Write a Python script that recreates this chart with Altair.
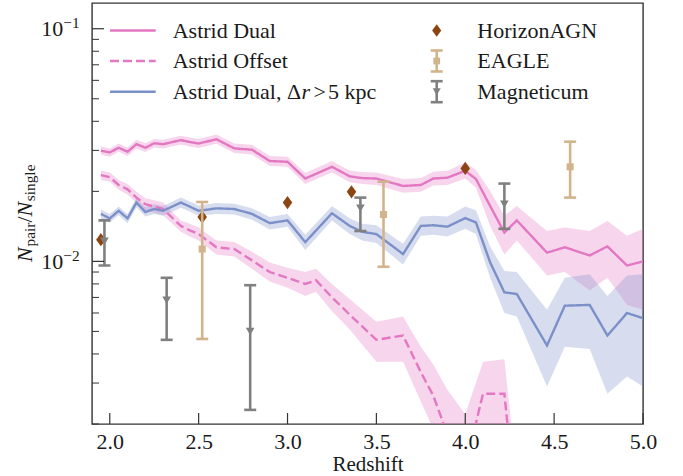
import altair as alt
import pandas as pd

# ---------------- Astrid: pair fractions on the snapshot grid ----------------
z_grid = [1.95, 2.0, 2.05, 2.1, 2.15, 2.2, 2.25, 2.3,
          2.4, 2.45, 2.5, 2.6, 2.7, 2.8, 2.9, 3.0,
          3.1, 3.25, 3.35, 3.42, 3.5,
          3.65, 3.75, 3.82, 3.9, 4.0,
          4.06, 4.14, 4.22, 4.29,
          4.46, 4.56, 4.7, 4.8, 4.91, 5.0]

dual = [0.0299, 0.0294, 0.0308, 0.0296, 0.0319, 0.0308, 0.0322, 0.0319,
        0.0332, 0.0326, 0.0321, 0.0335, 0.0306, 0.0302, 0.0270, 0.0268,
        0.0227, 0.0255, 0.0232, 0.0228, 0.0227,
        0.0211, 0.0213, 0.0227, 0.0229, 0.0245,
        0.0226, 0.0173, 0.0133, 0.0150,
        0.0109, 0.0115, 0.0106, 0.0116, 0.0096, 0.0100]
dual_lo = [0.0287, 0.0282, 0.0296, 0.0284, 0.0306, 0.0295, 0.0309, 0.0306,
           0.0318, 0.0312, 0.0307, 0.0320, 0.0292, 0.0288, 0.0257, 0.0255,
           0.0215, 0.0241, 0.0219, 0.0215, 0.0213,
           0.0197, 0.0199, 0.0212, 0.0213, 0.0227,
           0.0207, 0.0142, 0.0107, 0.0123,
           0.0087, 0.0090, 0.0075, 0.0085, 0.0065, 0.0062]
dual_hi = [0.0312, 0.0306, 0.0321, 0.0309, 0.0333, 0.0322, 0.0336, 0.0333,
           0.0347, 0.0341, 0.0336, 0.0351, 0.0321, 0.0317, 0.0284, 0.0282,
           0.0240, 0.0270, 0.0246, 0.0242, 0.0241,
           0.0226, 0.0228, 0.0243, 0.0245, 0.0266,
           0.0247, 0.0201, 0.0157, 0.0173,
           0.0135, 0.0140, 0.0135, 0.0149, 0.0129, 0.0138]

far = [0.0160, 0.0153, 0.0165, 0.0153, 0.0179, 0.0163, 0.0168, 0.0165,
       0.0179, 0.0172, 0.0165, 0.0169, 0.0168, 0.0160, 0.0146, 0.0150,
       0.0121, 0.0161, 0.0142, 0.0134, 0.0131,
       0.01075, 0.0142, 0.0143, 0.0141, 0.01535,
       0.0147, 0.0099, 0.00736, 0.00724,
       0.00435, 0.00645, 0.0065, 0.0048, 0.0060, 0.0057]
far_lo = [0.0153, 0.0147, 0.0158, 0.0146, 0.0171, 0.0156, 0.0160, 0.0157,
          0.0170, 0.0164, 0.0157, 0.0160, 0.0159, 0.0151, 0.0137, 0.0141,
          0.0112, 0.0150, 0.0131, 0.0123, 0.0120,
          0.0097, 0.0129, 0.0130, 0.0128, 0.0138,
          0.0131, 0.0085, 0.0060, 0.0058,
          0.0029, 0.0043, 0.0042, 0.0027, 0.0032, 0.0029]
far_hi = [0.0167, 0.0160, 0.0172, 0.0160, 0.0187, 0.0171, 0.0176, 0.0173,
          0.0188, 0.0181, 0.0174, 0.0178, 0.0177, 0.0169, 0.0155, 0.0160,
          0.0130, 0.0173, 0.0153, 0.0145, 0.0143,
          0.0119, 0.0156, 0.0157, 0.0156, 0.0172,
          0.0166, 0.0116, 0.0091, 0.0090,
          0.0062, 0.0085, 0.0088, 0.0071, 0.0087, 0.0088]

# ---------------- Astrid: offset AGN ----------------
z_off = [1.95, 2.0, 2.05, 2.1, 2.15, 2.2, 2.25, 2.3,
         2.4, 2.45, 2.5, 2.6, 2.7, 2.8, 2.9, 3.0,
         3.1, 3.16, 3.25, 3.35, 3.5, 3.65,
         3.75, 3.82, 3.9, 4.0, 4.1, 4.22, 4.29]
off = [0.0235, 0.0230, 0.0213, 0.0204, 0.0188, 0.0176, 0.0172, 0.0168,
       0.0142, 0.0136, 0.0131, 0.0115, 0.0113, 0.0101, 0.0090, 0.0085,
       0.0080, 0.0083, 0.0070, 0.0059, 0.0046, 0.0048,
       0.00334, 0.00265, 0.0018, 0.0013, 0.0027, 0.0027, 0.0008]
off_lo = [0.0224, 0.0220, 0.0203, 0.0194, 0.0178, 0.0166, 0.0162, 0.0158,
          0.0134, 0.0128, 0.0123, 0.0107, 0.0105, 0.0093, 0.0082, 0.0077,
          0.0071, 0.0074, 0.0061, 0.0051, 0.0037, 0.0037,
          0.0025, 0.0019, 0.0012, 0.0007, 0.0015, 0.0015, 0.0004]
off_hi = [0.0246, 0.0241, 0.0224, 0.0215, 0.0199, 0.0187, 0.0183, 0.0179,
          0.0150, 0.0145, 0.0140, 0.0123, 0.0121, 0.0110, 0.0099, 0.0094,
          0.0090, 0.0093, 0.0080, 0.0069, 0.0055, 0.0058,
          0.0043, 0.0036, 0.0028, 0.0022, 0.0037, 0.0038, 0.0012]

# ---------------- other simulations ----------------
hz_z = [1.95, 2.52, 3.0, 3.36, 4.0]
hz_v = [0.0124, 0.0155, 0.0179, 0.0199, 0.0251]

eg_z = [2.52, 3.54, 4.59]
eg_v = [0.0113, 0.0159, 0.0255]
eg_lo = [0.00464, 0.00948, 0.0188]
eg_hi = [0.0180, 0.0220, 0.0327]

mg_z = [1.97, 2.32, 2.79, 3.41, 4.22]
mg_v = [0.0122, 0.0068, 0.0050, 0.0169, 0.0176]
mg_lo = [0.0096, 0.0046, 0.0023, 0.0135, 0.0138]
mg_hi = [0.0150, 0.0085, 0.0079, 0.0188, 0.0216]

series_names = ["Astrid Dual", "Astrid Offset", "Astrid Dual, \u0394r > 5 kpc"]
x_ticks = [2.0, 2.5, 3.0, 3.5, 4.0, 4.5, 5.0]
y_major = [0.01, 0.1]
y_exp = ["\u22122", "\u22121"]
y_minor = [0.002, 0.003, 0.004, 0.005, 0.006, 0.007, 0.008, 0.009,
           0.02, 0.03, 0.04, 0.05, 0.06, 0.07, 0.08, 0.09]

# ---------------- styling ----------------
PINK = "#E377C2"
BLUE = "#7B90C8"
BROWN = "#8B4513"
TAN = "#D2B48C"
GRAY = "#808080"
INK = "#1a1a1a"
FRAME = "#333333"
SERIF = "'Liberation Serif', 'Times New Roman', 'DejaVu Serif', serif"
FS = 22
SUB = 15.4
W, H = 551, 421
DIAMOND = "M0,-1L0.72,0L0,1L-0.72,0Z"

xscale = alt.Scale(domain=[1.9, 5.0], nice=False, zero=False)
yscale = alt.Scale(type="log", domain=[0.002, 0.129], nice=False)
xaxis = alt.Axis(values=x_ticks, format=".1f", title="Redshift", ticks=False,
                 domain=False, grid=False, labelFont=SERIF, labelFontSize=FS,
                 labelColor=INK, labelPadding=7, labelFlush=False,
                 titleFont=SERIF, titleFontSize=21, titleFontWeight="normal",
                 titleColor=INK, titlePadding=1)


def X(f):
    return alt.X(f"{f}:Q", scale=xscale, axis=xaxis)


def Y(f):
    return alt.Y(f"{f}:Q", scale=yscale, axis=None)


astrid = pd.concat([
    pd.DataFrame({"z": z_grid, "v": dual, "lo": dual_lo, "hi": dual_hi, "series": series_names[0]}),
    pd.DataFrame({"z": z_off, "v": off, "lo": off_lo, "hi": off_hi, "series": series_names[1]}),
    pd.DataFrame({"z": z_grid, "v": far, "lo": far_lo, "hi": far_hi, "series": series_names[2]}),
], ignore_index=True)

color = alt.Color("series:N", scale=alt.Scale(domain=series_names, range=[PINK, PINK, BLUE]), legend=None)
dash = alt.StrokeDash("series:N", scale=alt.Scale(domain=series_names, range=[[1, 0], [9, 4], [1, 0]]),
                      legend=None)

bands = alt.Chart(astrid).mark_area(opacity=0.3, clip=True).encode(
    x=X("z"), y=Y("lo"), y2=alt.Y2("hi:Q"), color=color)
lines = alt.Chart(astrid).mark_line(clip=True, strokeWidth=2.4).encode(
    x=X("z"), y=Y("v"), color=color, strokeDash=dash)

hz = pd.DataFrame({"z": hz_z, "v": hz_v})
eg = pd.DataFrame({"z": eg_z, "v": eg_v, "lo": eg_lo, "hi": eg_hi})
mg = pd.DataFrame({"z": mg_z, "v": mg_v, "lo": mg_lo, "hi": mg_hi})

hz_pts = alt.Chart(hz).mark_point(shape=DIAMOND, filled=True, size=175, color=BROWN, opacity=1).encode(
    x=X("z"), y=Y("v"))


def errorbars(df, col, shape, size):
    bar = alt.Chart(df).mark_rule(color=col, strokeWidth=2.6).encode(x=X("z"), y=Y("lo"), y2=alt.Y2("hi:Q"))
    cap_lo = alt.Chart(df).mark_tick(color=col, orient="horizontal", size=12, thickness=2.6, opacity=1).encode(
        x=X("z"), y=Y("lo"))
    cap_hi = alt.Chart(df).mark_tick(color=col, orient="horizontal", size=12, thickness=2.6, opacity=1).encode(
        x=X("z"), y=Y("hi"))
    mid = alt.Chart(df).mark_point(shape=shape, filled=True, size=size, color=col, opacity=1).encode(
        x=X("z"), y=Y("v"))
    return [bar, cap_lo, cap_hi, mid]


eg_layers = errorbars(eg, TAN, "square", 50)
mg_layers = errorbars(mg, GRAY, "triangle-down", 75)

# inward ticks on the bottom and left edges
xt = pd.DataFrame({"z": x_ticks})
x_tick_marks = alt.Chart(xt).mark_rule(color=FRAME, strokeWidth=1.2).encode(
    x=X("z"), y=alt.value(H), y2=alt.value(H - 11))
ymaj = pd.DataFrame({"v": y_major, "exp": y_exp})
ymin = pd.DataFrame({"v": y_minor})
y_major_marks = alt.Chart(ymaj).mark_rule(color=FRAME, strokeWidth=1.2).encode(
    y=Y("v"), x=alt.value(0), x2=alt.value(12))
y_minor_marks = alt.Chart(ymin).mark_rule(color=FRAME, strokeWidth=1.0).encode(
    y=Y("v"), x=alt.value(0), x2=alt.value(7))

# y tick labels as 10 with a raised exponent
ten = alt.Chart(ymaj).mark_text(align="right", baseline="alphabetic", dy=7.5, font=SERIF,
                                fontSize=FS, color=INK).encode(
    x=alt.value(-28.7), y=Y("v"), text=alt.value("10"))
sup = alt.Chart(ymaj).mark_text(align="left", baseline="alphabetic", dy=-0.5, font=SERIF,
                                fontSize=SUB, color=INK).encode(
    x=alt.value(-28.7), y=Y("v"), text="exp:N")

one = pd.DataFrame({"k": [0]})


def label(txt, x, y, size=FS, style="normal", angle=0, align="left"):
    return alt.Chart(one).mark_text(align=align, baseline="alphabetic", font=SERIF, fontSize=size,
                                    fontStyle=style, angle=angle, color=INK).encode(
        x=alt.value(x), y=alt.value(y), text=alt.value(txt))


# y-axis title  N_pair / N_single, read bottom to top
y_title = [
    label("N", -60.3, 259, FS, "italic", 270),
    label("pair", -56.7, 243.5, SUB, "normal", 270),
    label("/", -60.3, 219.6, FS, "normal", 270),
    label("N", -60.3, 213.5, FS, "italic", 270),
    label("single", -56.7, 198.3, SUB, "normal", 270),
]

# legends
rows = [27.5, 58.0, 88.7]
LX0, LX1, LTX = 18, 63.7, 80.7
RX, RTX = 344.7, 385.3


def hline(y, col, dsh):
    return alt.Chart(one).mark_rule(color=col, strokeWidth=2.6, strokeDash=dsh).encode(
        x=alt.value(LX0), x2=alt.value(LX1), y=alt.value(y))


legend_left = [
    hline(rows[0], PINK, [1, 0]),
    hline(rows[1], PINK, [9, 4]),
    hline(rows[2], BLUE, [1, 0]),
    label("Astrid Dual", LTX, rows[0] + 7),
    label("Astrid Offset", LTX, rows[1] + 7),
    label("Astrid Dual, \u0394", LTX, rows[2] + 7),
    label("r", 209.5, rows[2] + 7, FS, "italic"),
    label(">", 221.5, rows[2] + 7),
    label("5 kpc", 236, rows[2] + 7),
]


def legend_errorbar(y, col, shape, size):
    v = alt.Chart(one).mark_rule(color=col, strokeWidth=2.6).encode(
        x=alt.value(RX), y=alt.value(y - 10.5), y2=alt.value(y + 10.5))
    c1 = alt.Chart(one).mark_rule(color=col, strokeWidth=2.6).encode(
        x=alt.value(RX - 6), x2=alt.value(RX + 6), y=alt.value(y - 10.5))
    c2 = alt.Chart(one).mark_rule(color=col, strokeWidth=2.6).encode(
        x=alt.value(RX - 6), x2=alt.value(RX + 6), y=alt.value(y + 10.5))
    m = alt.Chart(one).mark_point(shape=shape, filled=True, size=size, color=col, opacity=1).encode(
        x=alt.value(RX), y=alt.value(y))
    return [v, c1, c2, m]


legend_right = [
    alt.Chart(one).mark_point(shape=DIAMOND, filled=True, size=160, color=BROWN, opacity=1).encode(
        x=alt.value(RX), y=alt.value(rows[0])),
    *legend_errorbar(rows[1], TAN, "square", 45),
    *legend_errorbar(rows[2], GRAY, "triangle-down", 65),
    label("HorizonAGN", RTX, rows[0] + 7),
    label("EAGLE", RTX, rows[1] + 7),
    label("Magneticum", RTX, rows[2] + 7),
]

chart = alt.layer(
    bands, lines, hz_pts, *eg_layers, *mg_layers,
    x_tick_marks, y_major_marks, y_minor_marks, ten, sup,
    *y_title, *legend_left, *legend_right,
).properties(
    width=W, height=H,
    padding={"left": 92, "top": 3, "right": 40, "bottom": 52},
    autosize=alt.AutoSizeParams(type="none"),
    background="white",
).configure_view(stroke=FRAME, strokeWidth=1.4)

chart.save("out.html", embed_options={"renderer": "svg", "actions": False})
